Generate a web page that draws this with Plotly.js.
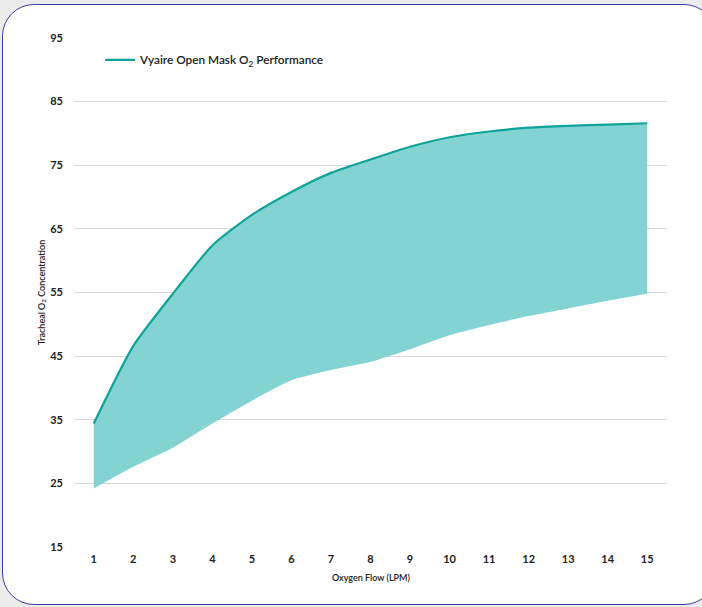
<!DOCTYPE html>
<html>
<head>
<meta charset="utf-8">
<script src="https://cdn.plot.ly/plotly-3.0.1.min.js"></script>
<style>
  html, body { margin: 0; padding: 0; width: 702px; height: 607px; overflow: hidden; background: #ececec; }
  #frame { position: absolute; left: 2px; top: 4px; width: 712px; height: 599px; border: 1.5px solid #3d3da0; border-radius: 32px; background: #ffffff; }
  #chart { position: absolute; left: 0; top: 0; width: 702px; height: 607px; }
</style>
</head>
<body>
<div id="frame"></div>
<div id="chart"></div>
<script>
const flow = [1, 2, 3, 4, 5, 6, 7, 8, 9, 10, 11, 12, 13, 14, 15];
const upperO2 = [34.4, 46.6, 54.8, 62.4, 67.2, 70.8, 73.8, 75.9, 77.9, 79.4, 80.3, 80.9, 81.2, 81.4, 81.6];
const lowerO2 = [24.2, 27.6, 30.6, 34.4, 38.0, 41.2, 42.8, 44.1, 46.1, 48.3, 49.9, 51.3, 52.5, 53.7, 54.8];
const yTicks = [15, 25, 35, 45, 55, 65, 75, 85, 95];
const seriesName = 'Vyaire Open Mask O<sub>2</sub> Performance';

const fillColor = '#84d3d3';
const lineColor = '#0ea39b';
const fontFam = 'Lato, "Open Sans", sans-serif';

const traces = [
  { x: flow, y: lowerO2, type: 'scatter', mode: 'lines', line: { width: 0, shape: 'spline', smoothing: 0.6 }, showlegend: false, hoverinfo: 'skip' },
  { x: flow, y: upperO2, type: 'scatter', mode: 'lines', fill: 'tonexty', fillcolor: fillColor, line: { width: 0, shape: 'spline', smoothing: 0.6 }, showlegend: false, hoverinfo: 'skip' },
  { x: flow, y: upperO2, type: 'scatter', mode: 'lines', name: seriesName, line: { color: lineColor, width: 2.2, shape: 'spline', smoothing: 0.6 }, showlegend: true }
];

const layout = {
  width: 702, height: 607,
  margin: { l: 74, r: 35, t: 38, b: 60 },
  paper_bgcolor: 'rgba(0,0,0,0)',
  plot_bgcolor: 'rgba(0,0,0,0)',
  font: { family: fontFam, color: '#222222', size: 11 },
  showlegend: true,
  legend: { x: 0.044, y: 0.957, xanchor: 'left', yanchor: 'middle', bgcolor: 'rgba(0,0,0,0)', font: { family: fontFam, size: 11.8, color: '#222222', weight: 600 }, itemwidth: 30 },
  xaxis: {
    range: [0.5, 15.5], tickvals: flow, showgrid: false, zeroline: false, showline: false, ticks: '',
    ticklabelstandoff: 4,
    tickfont: { family: fontFam, size: 11, color: '#222222', weight: 700 }, fixedrange: true
  },
  yaxis: {
    range: [15, 95], tickvals: yTicks, showgrid: true, gridcolor: '#d9d9d9', gridwidth: 1, zeroline: false, showline: false, ticks: '',
    ticklabelstandoff: 10,
    tickfont: { family: fontFam, size: 11, color: '#222222', weight: 700 },
    title: { text: 'Tracheal O<sub>2</sub> Concentration', font: { family: fontFam, size: 9, color: '#222222', weight: 600 }, standoff: 3 },
    fixedrange: true
  },
  annotations: [
    { x: 8, y: -0.06, xref: 'x', yref: 'paper', text: 'Oxygen Flow (LPM)', showarrow: false, xanchor: 'center', yanchor: 'middle', font: { family: fontFam, size: 9, color: '#222222', weight: 600 } }
  ]
};

Plotly.newPlot('chart', traces, layout, { displayModeBar: false, staticPlot: true });
</script>
</body>
</html>
